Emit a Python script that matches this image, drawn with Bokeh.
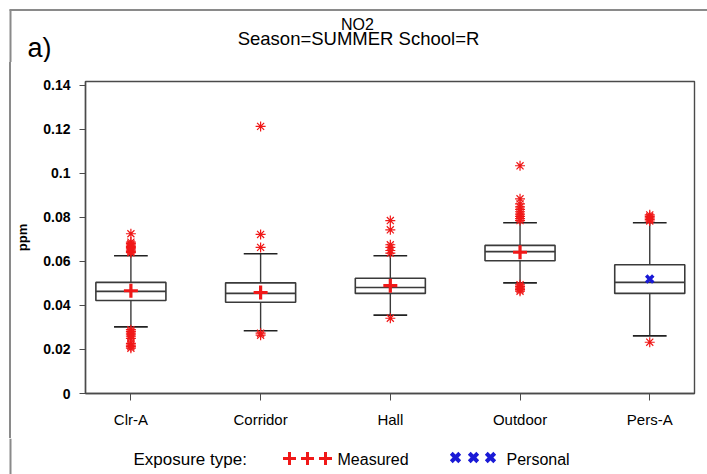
from bokeh.plotting import figure
from bokeh.layouts import column, row
from bokeh.models import Range1d, FixedTicker, ColumnDataSource, Div
from bokeh.core.properties import value
from bokeh.embed import file_html
from bokeh.resources import INLINE

# ---- data: NO2 exposure, summer, school R ----
categories = ["Clr-A", "Corridor", "Hall", "Outdoor", "Pers-A"]
exposure = ["Measured", "Measured", "Measured", "Measured", "Personal"]
q1 = [0.0423, 0.0415, 0.0455, 0.0603, 0.0455]
median = [0.0464, 0.0455, 0.0482, 0.0645, 0.0505]
q3 = [0.0505, 0.0503, 0.0524, 0.0673, 0.0585]
whisker_low = [0.0303, 0.0285, 0.0356, 0.0503, 0.0262]
whisker_high = [0.0626, 0.0635, 0.0626, 0.0776, 0.0776]
mean = [0.0467, 0.0459, 0.0490, 0.0642, 0.0520]

outliers_clr_a = [0.0726, 0.0688, 0.0681, 0.0675, 0.0669, 0.0663, 0.0657, 0.0651,
                  0.0645, 0.0640, 0.0290, 0.0282, 0.0274, 0.0266, 0.0258, 0.0250,
                  0.0228, 0.0220, 0.0213, 0.0206]
outliers_corridor = [0.1214, 0.0723, 0.0664, 0.0274, 0.0265]
outliers_hall = [0.0786, 0.0744, 0.0676, 0.0664, 0.0650, 0.0638, 0.0342]
outliers_outdoor = [0.1035, 0.0885, 0.0862, 0.0848, 0.0837, 0.0826, 0.0815, 0.0805,
                    0.0795, 0.0786, 0.0494, 0.0486, 0.0479, 0.0472, 0.0465]
outliers_pers_a = [0.0812, 0.0805, 0.0798, 0.0791, 0.0784, 0.0233]
outliers = [outliers_clr_a, outliers_corridor, outliers_hall, outliers_outdoor, outliers_pers_a]

y_ticks = [0, 0.02, 0.04, 0.06, 0.08, 0.1, 0.12, 0.14]
y_tick_labels = ["0", "0.02", "0.04", "0.06", "0.08", "0.1", "0.12", "0.14"]

# ---- page geometry (pixels from the top-left corner) ----
W, H = 707, 474
TOP_H = 62          # title strip
MID_B = 438         # bottom of the plot row
STRIP_W = 12        # left page-border strip
FRAME_L, FRAME_R, FRAME_T, FRAME_B = 83, 694, 81, 393
x_start, x_end = -0.35, 4.345
y_start, y_end = 0.0, 0.1418
FONT = "Liberation Sans"
INK = "#000000"
RED = "#f01818"
BLUE = "#1a1ad6"
BOX = "#3a3a3a"
PAGE_LINE = "#8a8a8a"
BORDER_X = 10


def blank_panel(x0, x1, y0, y1):
    """A figure whose frame covers the whole canvas, addressed in page pixels."""
    f = figure(width=x1 - x0, height=y1 - y0, output_backend="svg", toolbar_location=None,
               x_range=Range1d(x0, x1), y_range=Range1d(y1, y0),
               x_axis_location=None, y_axis_location=None,
               min_border=0, min_border_left=0, min_border_right=0,
               min_border_top=0, min_border_bottom=0)
    f.grid.visible = False
    f.outline_line_color = None
    f.background_fill_color = "white"
    f.border_fill_color = "white"
    return f


def put_text(f, x, y, text, size, align="left", color=INK, style="normal"):
    f.text(x=[x], y=[y], text=[text], text_font=value(FONT), text_font_size=value(size),
           text_align=align, text_baseline="middle", text_color=color,
           text_font_style=style)


# ---- title strip ----
top = blank_panel(0, W, 0, TOP_H)
top.segment(x0=[BORDER_X - 1], x1=[W], y0=[9.5], y1=[9.5], line_color=PAGE_LINE, line_width=2)
top.segment(x0=[BORDER_X], x1=[BORDER_X], y0=[9], y1=[TOP_H], line_color=PAGE_LINE, line_width=2)
put_text(top, 27, 47, "a)", "27px")
put_text(top, 357, 24, "NO2", "16px", align="center")
put_text(top, 358, 38, "Season=SUMMER School=R", "18.5px", align="center")

# ---- left page-border strip (plain HTML rule) ----
strip_h = MID_B - TOP_H
strip = Div(width=STRIP_W, height=strip_h, margin=0,
            text=(f'<div style="margin:0 0 0 {BORDER_X - 1}px;width:2px;'
                  f'height:{strip_h}px;background:{PAGE_LINE}"></div>'))

# ---- box plot ----
p = figure(width=W - STRIP_W, height=MID_B - TOP_H, output_backend="svg", toolbar_location=None,
           x_range=Range1d(x_start, x_end), y_range=Range1d(y_start, y_end),
           min_border_left=FRAME_L - STRIP_W, min_border_right=W - FRAME_R,
           min_border_top=FRAME_T - TOP_H, min_border_bottom=MID_B - FRAME_B)
p.xgrid.visible = False
p.ygrid.visible = False
p.background_fill_color = "white"
p.border_fill_color = "white"
p.outline_line_color = "#4a4a4a"
p.outline_line_width = 1.4

xpos = list(range(len(categories)))
p.xaxis.ticker = FixedTicker(ticks=xpos)
p.xaxis.major_label_overrides = {i: c for i, c in zip(xpos, categories)}
p.yaxis.ticker = FixedTicker(ticks=y_ticks)
p.yaxis.major_label_overrides = {t: s for t, s in zip(y_ticks, y_tick_labels)}
for ax in (p.xaxis[0], p.yaxis[0]):
    ax.axis_line_color = "#4a4a4a"
    ax.axis_line_width = 1.4
    ax.major_tick_line_color = "#4a4a4a"
    ax.major_tick_in = 0
    ax.minor_tick_line_color = None
    ax.major_label_text_font = FONT
    ax.major_label_text_color = INK
p.xaxis.major_tick_out = 7
p.xaxis.major_label_standoff = 10
p.xaxis.major_label_text_font_size = "15px"
p.yaxis.major_tick_out = 6
p.yaxis.major_label_standoff = 9
p.yaxis.major_label_text_font_size = "14px"
p.yaxis.major_label_text_font_style = "bold"
p.yaxis.axis_label = "ppm"
p.yaxis.axis_label_text_font = FONT
p.yaxis.axis_label_text_font_size = "13px"
p.yaxis.axis_label_text_font_style = "bold"
p.yaxis.axis_label_standoff = 10
p.yaxis.axis_label_text_color = INK

half_box, half_cap = 0.27, 0.13
src = ColumnDataSource(dict(
    x=xpos, q1=q1, q3=q3, med=median, lo=whisker_low, hi=whisker_high,
    bl=[x - half_box for x in xpos], br=[x + half_box for x in xpos],
    cl=[x - half_cap for x in xpos], cr=[x + half_cap for x in xpos]))
p.quad(left="bl", right="br", bottom="q1", top="q3", source=src,
       fill_color=None, line_color=BOX, line_width=1.6)
p.segment(x0="bl", x1="br", y0="med", y1="med", source=src, line_color=BOX, line_width=1.6)
p.segment(x0="x", x1="x", y0="q3", y1="hi", source=src, line_color=BOX, line_width=1.4)
p.segment(x0="x", x1="x", y0="q1", y1="lo", source=src, line_color=BOX, line_width=1.4)
p.segment(x0="cl", x1="cr", y0="hi", y1="hi", source=src, line_color="#222222", line_width=1.6)
p.segment(x0="cl", x1="cr", y0="lo", y1="lo", source=src, line_color="#222222", line_width=1.6)

ox, oy = [], []
for i, vals in enumerate(outliers):
    ox += [i] * len(vals)
    oy += vals
p.scatter(ox, oy, marker="asterisk", size=10, line_color=RED, line_width=1.2)

mx_m = [i for i, e in enumerate(exposure) if e == "Measured"]
mx_p = [i for i, e in enumerate(exposure) if e == "Personal"]
p.scatter(mx_m, [mean[i] for i in mx_m], marker="cross", size=14, line_color=RED, line_width=3.2)
p.scatter(mx_p, [mean[i] for i in mx_p], marker="x", size=10, line_color=BLUE, line_width=3.5)

# ---- legend strip ----
bottom = blank_panel(0, W, MID_B, H)
bottom.segment(x0=[BORDER_X], x1=[BORDER_X], y0=[MID_B], y1=[H], line_color=PAGE_LINE, line_width=2)
put_text(bottom, 133, 459, "Exposure type:", "17px")
bottom.scatter([289, 307, 325], [458] * 3, marker="cross", size=13, line_color=RED, line_width=3)
put_text(bottom, 337, 459, "Measured", "16px")
bottom.scatter([455, 473, 490], [457] * 3, marker="x", size=12, line_color=BLUE, line_width=4)
put_text(bottom, 506, 459, "Personal", "16px")

page = column(top, row(strip, p, spacing=0), bottom, spacing=0)
open("out.html", "w").write(file_html(page, INLINE))
